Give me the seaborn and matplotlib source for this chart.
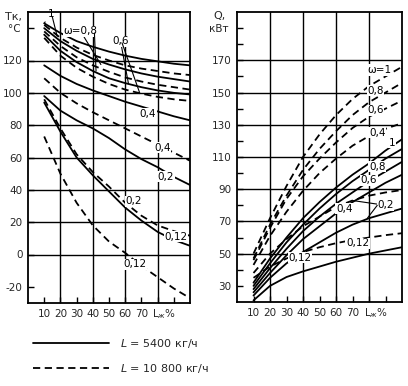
import matplotlib
matplotlib.use("Agg")
import matplotlib.pyplot as plt
import seaborn as sns
import pandas as pd
from matplotlib.lines import Line2D

# ---------------- data ----------------
L = [10, 20, 30, 40, 50, 60, 70, 80, 90, 100]
omega = ["1", "0,8", "0,6", "0,4", "0,2", "0,12"]

# Left panel: Tk (°C), L = 5400 kg/h (solid)
tk_s_1 = [143, 137, 132, 128.5, 125.5, 123, 121, 119.5, 118, 117]
tk_s_08 = [140, 132, 126, 121, 117.5, 114.5, 112, 110, 108.5, 107]
tk_s_06 = [136, 126, 119, 113.5, 109, 106, 103.5, 101.5, 100, 99]
tk_s_04 = [117, 110.5, 105.5, 101.5, 98, 94.5, 91.5, 88.5, 85.5, 83]
tk_s_02 = [98, 89, 83, 78, 72, 65, 59, 54, 48, 43]
tk_s_012 = [94, 76, 60, 49, 39, 29, 21, 14, 9, 5.4]
# Left panel: Tk (°C), L = 10800 kg/h (dashed)
tk_d_1 = [142, 134, 128, 123.5, 120, 117, 115, 113.5, 112, 111]
tk_d_08 = [138, 129, 122, 117, 113, 109.5, 107, 105, 103.5, 102]
tk_d_06 = [134, 123, 115.5, 110, 105.5, 102, 99.5, 97.5, 96, 95]
tk_d_04 = [109, 100, 93.5, 88, 83, 78, 73, 68, 63, 58]
tk_d_02 = [96, 78, 62, 51, 42, 32, 24, 18, 14.5, 11.6]
tk_d_012 = [73, 50, 32, 18, 8, 1, -7, -14, -21, -27]

# Right panel: Q (kW), solid
q_s_1 = [32, 47, 60, 72, 82, 91, 99, 106, 114, 121]
q_s_08 = [30, 44, 57, 68, 78, 87, 95, 102, 109, 115]
q_s_06 = [28, 41, 53, 64, 73, 81, 88, 95, 101, 107]
q_s_04 = [26, 38, 49, 59, 67, 75, 82, 88, 94, 99]
q_s_02 = [24, 35, 44, 51, 57, 63, 68, 72, 75, 78]
q_s_012 = [21, 30, 35.5, 39, 42, 45, 47.5, 50, 52, 54]
# Right panel: Q (kW), dashed
q_d_1 = [50, 72, 92, 110, 124, 136, 146, 154, 160, 166]
q_d_08 = [47, 68, 86, 102, 115, 126, 136, 144, 150, 156]
q_d_06 = [46, 66, 84, 98, 109, 119, 128, 135, 140, 145]
q_d_04 = [43, 61, 76, 89, 100, 109, 117, 123, 127.5, 131]
q_d_02 = [38, 50, 59, 67, 73, 79, 83, 86, 88, 89.5]
q_d_012 = [35, 42, 47, 51, 54, 56.5, 58.5, 60, 61.5, 62.7]

# axis ticks / grid values
x_ticks = [10, 20, 30, 40, 50, 60, 70, 80, 90]
x_ticklabels = ["10", "20", "30", "40", "50", "60", "70", "", ""]
x_grid = [20, 40, 60, 80]
tk_ticks = [-20, 0, 20, 40, 60, 80, 100, 120, 140]
tk_ticklabels = ["-20", "0", "20", "40", "60", "80", "100", "120", ""]
tk_grid = [0, 20, 40, 60, 80, 100, 120]
q_ticks = list(range(30, 200, 10))
q_ticklabels = ["30", "", "50", "", "70", "", "90", "", "110", "", "130", "", "150", "", "170", "", ""]
q_grid = [50, 70, 90, 110, 130, 150, 170]

legend_labels = ["$L$ = 5400 кг/ч", "$L$ = 10 800 кг/ч"]

left_series = {
    ("5400", "1"): tk_s_1, ("5400", "0,8"): tk_s_08, ("5400", "0,6"): tk_s_06,
    ("5400", "0,4"): tk_s_04, ("5400", "0,2"): tk_s_02, ("5400", "0,12"): tk_s_012,
    ("10800", "1"): tk_d_1, ("10800", "0,8"): tk_d_08, ("10800", "0,6"): tk_d_06,
    ("10800", "0,4"): tk_d_04, ("10800", "0,2"): tk_d_02, ("10800", "0,12"): tk_d_012,
}
right_series = {
    ("5400", "1"): q_s_1, ("5400", "0,8"): q_s_08, ("5400", "0,6"): q_s_06,
    ("5400", "0,4"): q_s_04, ("5400", "0,2"): q_s_02, ("5400", "0,12"): q_s_012,
    ("10800", "1"): q_d_1, ("10800", "0,8"): q_d_08, ("10800", "0,6"): q_d_06,
    ("10800", "0,4"): q_d_04, ("10800", "0,2"): q_d_02, ("10800", "0,12"): q_d_012,
}


def to_frame(series):
    rows = []
    for (flow, w), vals in series.items():
        for x, v in zip(L, vals):
            rows.append({"L": x, "v": v, "flow": flow, "omega": w})
    return pd.DataFrame(rows)


df_left = to_frame(left_series)
df_right = to_frame(right_series)

# ---------------- style ----------------
sns.set_style("white")
plt.rcParams["font.family"] = ["DejaVu Sans"]
plt.rcParams["mathtext.fontset"] = "dejavusans"
FS = 7.5
DASH = (4, 2.5)

fig = plt.figure(figsize=(4.08, 3.86), dpi=100)
W, H = 408.0, 386.0
axL = fig.add_axes([28 / W, 1 - 303 / H, (190 - 28) / W, (303 - 12) / H])
axR = fig.add_axes([237 / W, 1 - 302 / H, (402 - 237) / W, (302 - 12) / H])

for ax, df, ygrid in ((axL, df_left, tk_grid), (axR, df_right, q_grid)):
    for gx in x_grid:
        ax.axvline(gx, color="black", linewidth=1.0, zorder=0.5)
    for gy in ygrid:
        ax.axhline(gy, color="black", linewidth=1.0, zorder=0.5)
    sns.lineplot(data=df, x="L", y="v", style="flow", units="omega",
                 estimator=None, color="black", linewidth=1.3,
                 dashes={"5400": "", "10800": DASH}, legend=False, ax=ax)
    ax.set_xlim(0, 100)
    ax.set_xticks(x_ticks)
    ax.set_xticklabels(x_ticklabels, fontsize=FS)
    ax.set_xlabel("")
    ax.set_ylabel("")
    ax.tick_params(which="major", direction="in", length=4, width=1.0,
                   color="black", pad=4, left=True, bottom=True)
    for s in ax.spines.values():
        s.set_color("black")
        s.set_linewidth(1.3)
    ax.text(84, -0.037, "L$_{ж}$%", transform=ax.get_xaxis_transform(),
            ha="center", va="center", fontsize=FS)

# left axis
axL.set_ylim(-30, 150)
axL.set_yticks(tk_ticks)
axL.set_yticklabels(tk_ticklabels, fontsize=FS)

# right axis
axR.set_ylim(20, 200)
axR.set_yticks(q_ticks)
axR.set_yticklabels(q_ticklabels, fontsize=FS)

# axis titles
fig.text(5 / W, 1 - 17 / H, "Tк,", fontsize=FS + 0.5, va="center", ha="left")
fig.text(8 / W, 1 - 29 / H, "°C", fontsize=FS, va="center", ha="left")
fig.text(213 / W, 1 - 16 / H, "Q,", fontsize=FS + 0.5, va="center", ha="left")
fig.text(209 / W, 1 - 29 / H, "кВт", fontsize=FS, va="center", ha="left")

# curve labels, left
lab = dict(fontsize=FS, color="black", va="center", ha="left")
labw = dict(lab, bbox=dict(fc="white", ec="none", pad=0.4))
arr = dict(arrowstyle="-", color="black", lw=0.8, shrinkA=0, shrinkB=0)
axL.annotate("1", xy=(10, tk_s_1[0]), xytext=(12, 149), arrowprops=arr, **lab)
axL.annotate("", xy=(18, tk_d_1[1] + 1), xytext=(15, 147), arrowprops=arr)
axL.annotate("ω=0,8", xy=(45, 117.5), xytext=(22, 138), arrowprops=arr, **labw)
axL.annotate("", xy=(42, 113.5), xytext=(41, 137), arrowprops=arr)
axL.annotate("0,6", xy=(62, 105.8), xytext=(52, 132), arrowprops=arr, **labw)
axL.annotate("", xy=(69, 99.8), xytext=(58, 131), arrowprops=arr)
axL.text(69, 87, "0,4", **labw)
axL.text(78, 66, "0,4", **labw)
axL.text(80, 48, "0,2", **labw)
axL.text(60, 33, "0,2", **labw)
axL.text(84, 11, "0,12", **labw)
axL.text(59, -6, "0,12", **labw)

# curve labels, right
axR.text(79, 164, "ω=1", **labw)
axR.text(79, 151, "0,8", **labw)
axR.text(79, 139, "0,6", **labw)
axR.text(80, 125, "0,4", **labw)
axR.text(92, 119, "1", **labw)
axR.text(80, 104, "0,8", **labw)
axR.text(75, 95.5, "0,6", **labw)
axR.text(60, 78, "0,4", **labw)
axR.annotate("0,2", xy=(70, 83), xytext=(85, 80), arrowprops=arr, **labw)
axR.annotate("", xy=(79, 72), xytext=(85, 80), arrowprops=arr)
axR.text(66, 56.5, "0,12", **labw)
axR.text(31, 47.5, "0,12", **labw)

# legend
handles = [Line2D([], [], color="black", lw=1.3),
           Line2D([], [], color="black", lw=1.3, dashes=DASH)]
fig.legend(handles, legend_labels, loc="upper left",
           bbox_to_anchor=(33 / W, 1 - 337 / H), frameon=False,
           fontsize=8, handlelength=6.8, handletextpad=1.0,
           labelspacing=1.1, borderpad=0, borderaxespad=0)

fig.savefig("out.png", dpi=100)
